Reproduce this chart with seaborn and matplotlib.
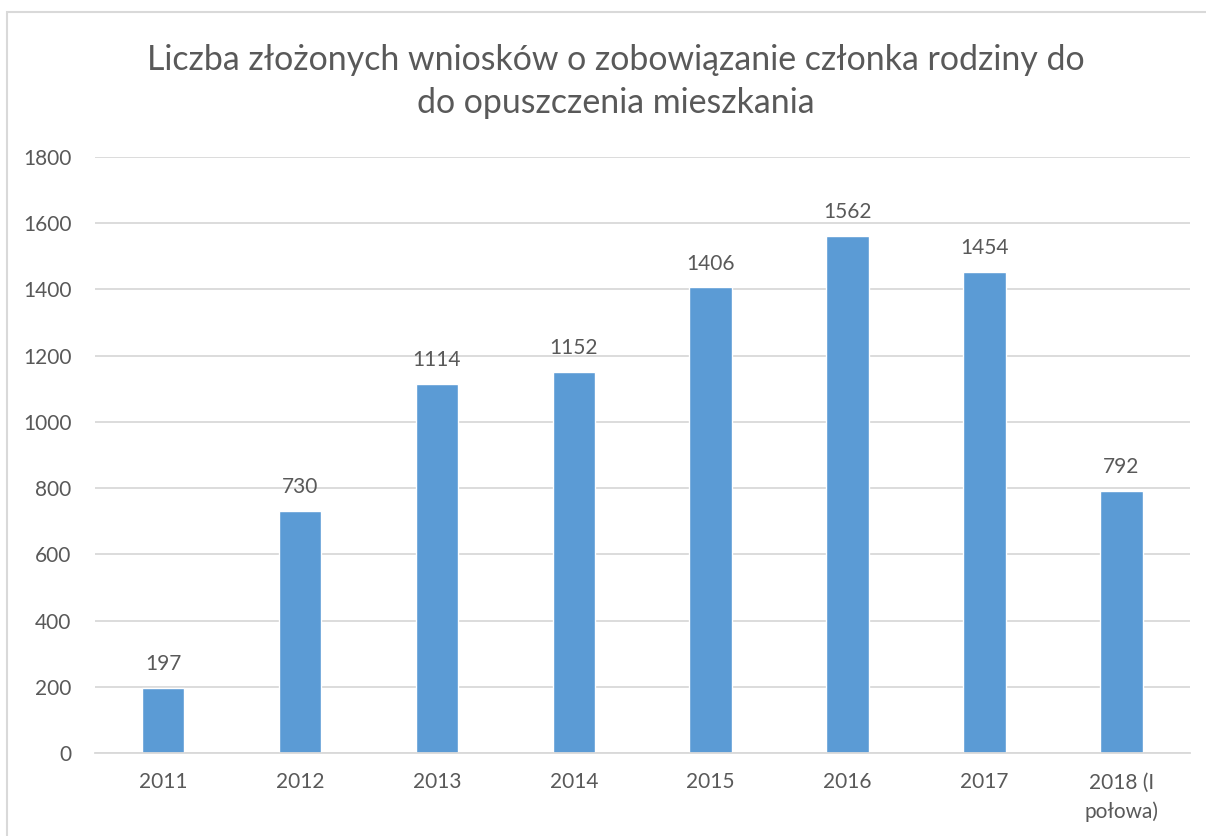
import matplotlib
matplotlib.use("Agg")
import matplotlib.pyplot as plt
import seaborn as sns
import pandas as pd
from matplotlib.patches import Rectangle

categories = ["2011", "2012", "2013", "2014", "2015", "2016", "2017", "2018 (I\npołowa)"]
values = [197, 730, 1114, 1152, 1406, 1562, 1454, 792]
yticks = [0, 200, 400, 600, 800, 1000, 1200, 1400, 1600, 1800]
title = "Liczba złożonych wniosków o zobowiązanie członka rodziny do\ndo opuszczenia mieszkania"

sns.set_theme(style="white")
plt.rcParams['font.family'] = ['Lato', 'DejaVu Sans']

TXT = "#595959"
BAR = "#5B9BD5"
GRID = "#D9D9D9"

df = pd.DataFrame({"cat": categories, "val": values})

fig = plt.figure(figsize=(12.06, 8.36), dpi=100)
ax = fig.add_axes([94.5/1206, 1 - 753/836, (1190-94.5)/1206, (753-157)/836])

sns.barplot(data=df, x="cat", y="val", color=BAR, width=0.31, ax=ax, saturation=1)

ax.set_ylim(0, 1800)
ax.set_xlim(-0.5, len(categories) - 0.5)
ax.set_yticks(yticks)
ax.set_yticklabels([str(t) for t in yticks])
ax.yaxis.grid(True, color=GRID, linewidth=1.3)
ax.set_axisbelow(True)
for s in ["top", "right", "left"]:
    ax.spines[s].set_visible(False)
ax.spines["bottom"].set_color(GRID)
ax.spines["bottom"].set_linewidth(1.3)
ax.tick_params(axis="both", length=0, colors=TXT, labelsize=15)
ax.tick_params(axis="y", pad=16.5)
ax.tick_params(axis="x", pad=14)
for lab in ax.get_xticklabels():
    lab.set_linespacing(1.55)
ax.set_xlabel("")
ax.set_ylabel("")

for i, v in enumerate(values):
    ax.annotate(str(v), (i, v), xytext=(0, 10), textcoords="offset points",
                ha="center", va="bottom", fontsize=15, color=TXT)

fig.text(0.511, 1 - 81.5/836, title, ha="center", va="center", fontsize=24.4,
         color=TXT, linespacing=1.42)

fig.patches.append(Rectangle((7/1206, -0.1), 1.2, 1 - 12/836 + 0.1,
                             transform=fig.transFigure, fill=False,
                             edgecolor="#D9D9D9", linewidth=1.5))

fig.savefig("out.png", dpi=100)
